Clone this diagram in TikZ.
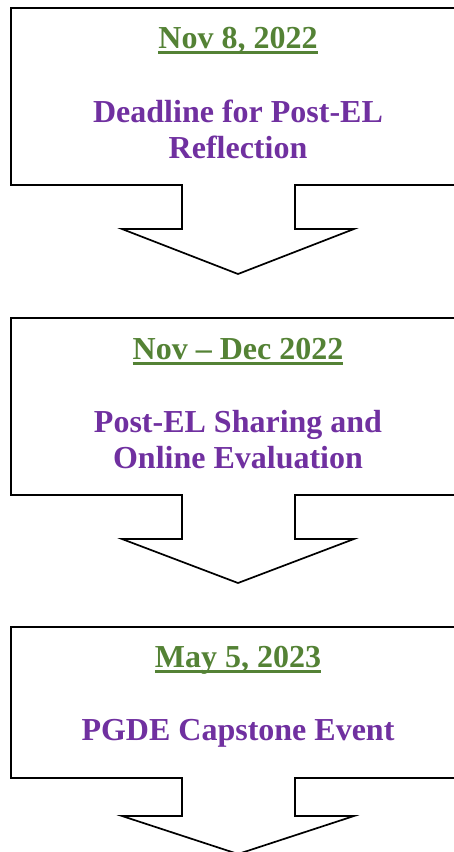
\documentclass[tikz,border=0pt]{standalone}
\usepackage{fontspec}
\setmainfont{Liberation Serif}
\usepackage{tikz}
\usetikzlibrary{positioning}
\definecolor{dategreen}{HTML}{548235}
\definecolor{eventpurple}{HTML}{7030A0}

% underlined date text
\newcommand{\uldate}[1]{\setbox0\hbox{#1}\rlap{\raisebox{-6pt}{\rule{\wd0}{3pt}}}\box0}

\tikzset{
  callout/.style={draw=black, fill=white, line width=1.7pt, line join=miter},
  datelabel/.style={text=dategreen, font=\bfseries\fontsize{32}{36}\selectfont, anchor=base, inner sep=0pt},
  eventlabel/.style={text=eventpurple, font=\bfseries\fontsize{32}{36}\selectfont, align=center, anchor=base, inner sep=0pt}
}

\begin{document}
\begin{tikzpicture}[x=1pt, y=-1pt]
\useasboundingbox (0,0) rectangle (454,852);
\clip (0,0) rectangle (454,852);

%Callouts: top/bottom/stem/tip
\foreach \t/\b/\s/\p in {8/185/44/89, 318/495/44/88, 627/778/38/76} {
  \draw[callout] (11,\t) -- (466,\t) -- (466,\b) -- (295,\b) -- (295,\b+\s)
    -- (354,\b+\s) -- (238,\b+\p) -- (122,\b+\s) -- (182,\b+\s)
    -- (182,\b) -- (11,\b) -- cycle;
}

%Dates
\node[datelabel] (date1) at (238,48) {\uldate{Nov 8, 2022}};
\node[datelabel] (date2) at (238,359) {\uldate{Nov -- Dec 2022}};
\node[datelabel] (date3) at (238,667) {\uldate{May 5, 2023}};

%Events (base = last line)
\node[eventlabel] (event1) at (238,158) {Deadline for Post-EL\\Reflection};
\node[eventlabel] (event2) at (238,468) {Post-EL Sharing and\\Online Evaluation};
\node[eventlabel] (event3) at (238,740) {PGDE Capstone Event};
\end{tikzpicture}
\end{document}
